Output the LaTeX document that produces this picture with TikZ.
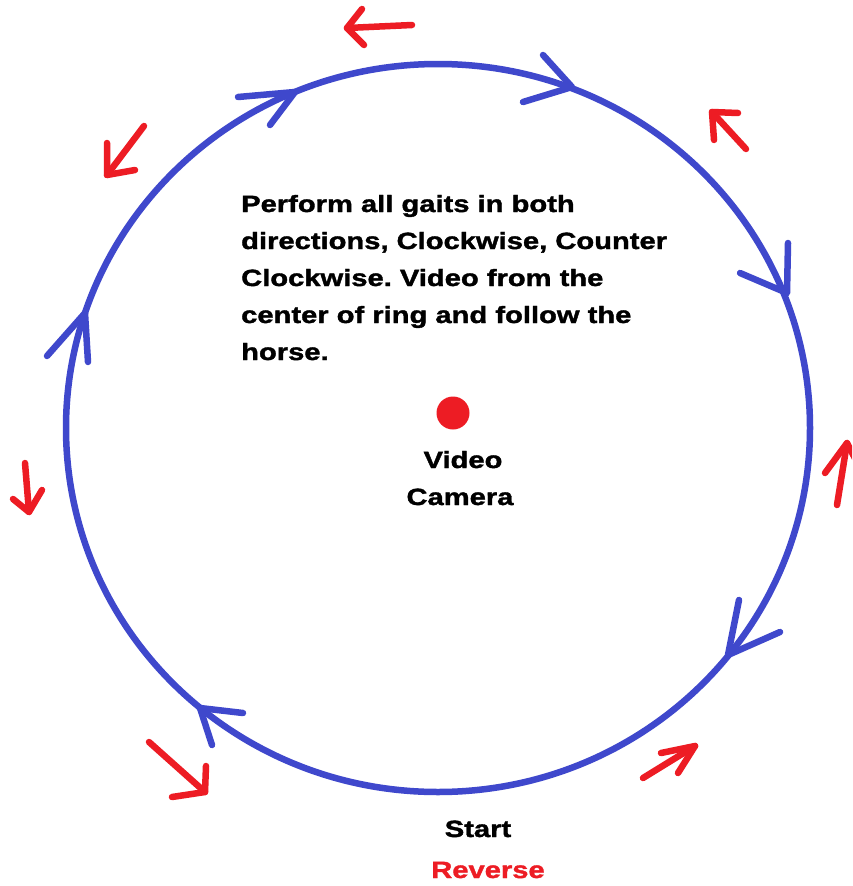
\documentclass[tikz,border=0pt]{standalone}
\usepackage{fontspec}
\setmainfont{Liberation Sans}
\newfontfamily\heavy[FakeStretch=1.24,BoldFeatures={FakeBold=1.6}]{Liberation Sans}
\definecolor{ringblue}{RGB}{63,72,204}
\definecolor{paintred}{RGB}{237,28,36}
\frenchspacing
\begin{document}
\begin{tikzpicture}[x=1pt,y=-1pt,
  ring/.style={draw=ringblue,line width=6.5pt},
  bluehead/.style={draw=ringblue,line width=6.5pt,line cap=round,line join=round},
  redarrow/.style={draw=paintred,line width=6.5pt,line cap=round,line join=round},
  txt/.style={font=\heavy\fontsize{23.5}{37}\selectfont\bfseries,text=black,inner sep=0pt}]
\useasboundingbox (0,0) rectangle (852,886);
\clip (0,0) rectangle (852,886);
\fill[white] (0,0) rectangle (852,886);
% ring
\coordinate (c) at (438,428);
\draw[ring] (c) ellipse [x radius=372, y radius=364];
% blue arrowheads (clockwise)
\coordinate (b1) at (295,92);
\draw[bluehead] (238,97) -- (b1) -- (270,125);
\coordinate (b2) at (572,87);
\draw[bluehead] (543,55) -- (b2) -- (523,102);
\coordinate (b3) at (787,293);
\draw[bluehead] (788,243) -- (b3) -- (740,273);
\coordinate (b4) at (85,313);
\draw[bluehead] (47,356) -- (b4) -- (88,362);
\coordinate (b5) at (200,708);
\draw[bluehead] (243,713) -- (b5) -- (212,745);
\coordinate (b6) at (728,655);
\draw[bluehead] (739,600) -- (b6) -- (780,632);
% red arrows (counter-clockwise)
\coordinate (r1) at (347,28);
\draw[redarrow] (412,25) -- (r1);
\draw[redarrow] (362,9) -- (r1) -- (364,45);
\coordinate (r2) at (107,175);
\draw[redarrow] (144,126) -- (r2);
\draw[redarrow] (107,143) -- (r2) -- (135,170);
\coordinate (r3) at (29,512);
\draw[redarrow] (25,463) -- (r3);
\draw[redarrow] (13,499) -- (r3) -- (42,490);
\coordinate (r4) at (712,112);
\draw[redarrow] (746,149) -- (r4);
\draw[redarrow] (738,113) -- (r4) -- (714,140);
\coordinate (r5) at (847,443);
\draw[redarrow] (837,505) -- (r5);
\draw[redarrow] (825,473) -- (r5) -- (860,468);
\coordinate (r6) at (695,746);
\draw[redarrow] (643,778) -- (r6);
\draw[redarrow] (661,753) -- (r6) -- (678,773);
\coordinate (r7) at (205,792);
\draw[redarrow] (149,742) -- (r7);
\draw[redarrow] (206,766) -- (r7) -- (172,797);
% camera
\node[circle,fill=paintred,minimum size=33pt,inner sep=0pt] (cam) at (453,413) {};
\node[txt,anchor=base] (video) at (463,468) {Video};
\node[txt,anchor=base] (camera) at (460,505) {Camera};
% instructions
\node[txt,anchor=base west,align=left] (instr) at (241,360) {Perform all gaits in both\\directions, Clockwise, Counter\\Clockwise. Video from the\\center of ring and follow the\\horse.};
% start / reverse
\node[txt,anchor=base] (start) at (478,837) {Start};
\node[txt,anchor=base,text=paintred] (reverse) at (488,878) {Reverse};
\end{tikzpicture}
\end{document}
